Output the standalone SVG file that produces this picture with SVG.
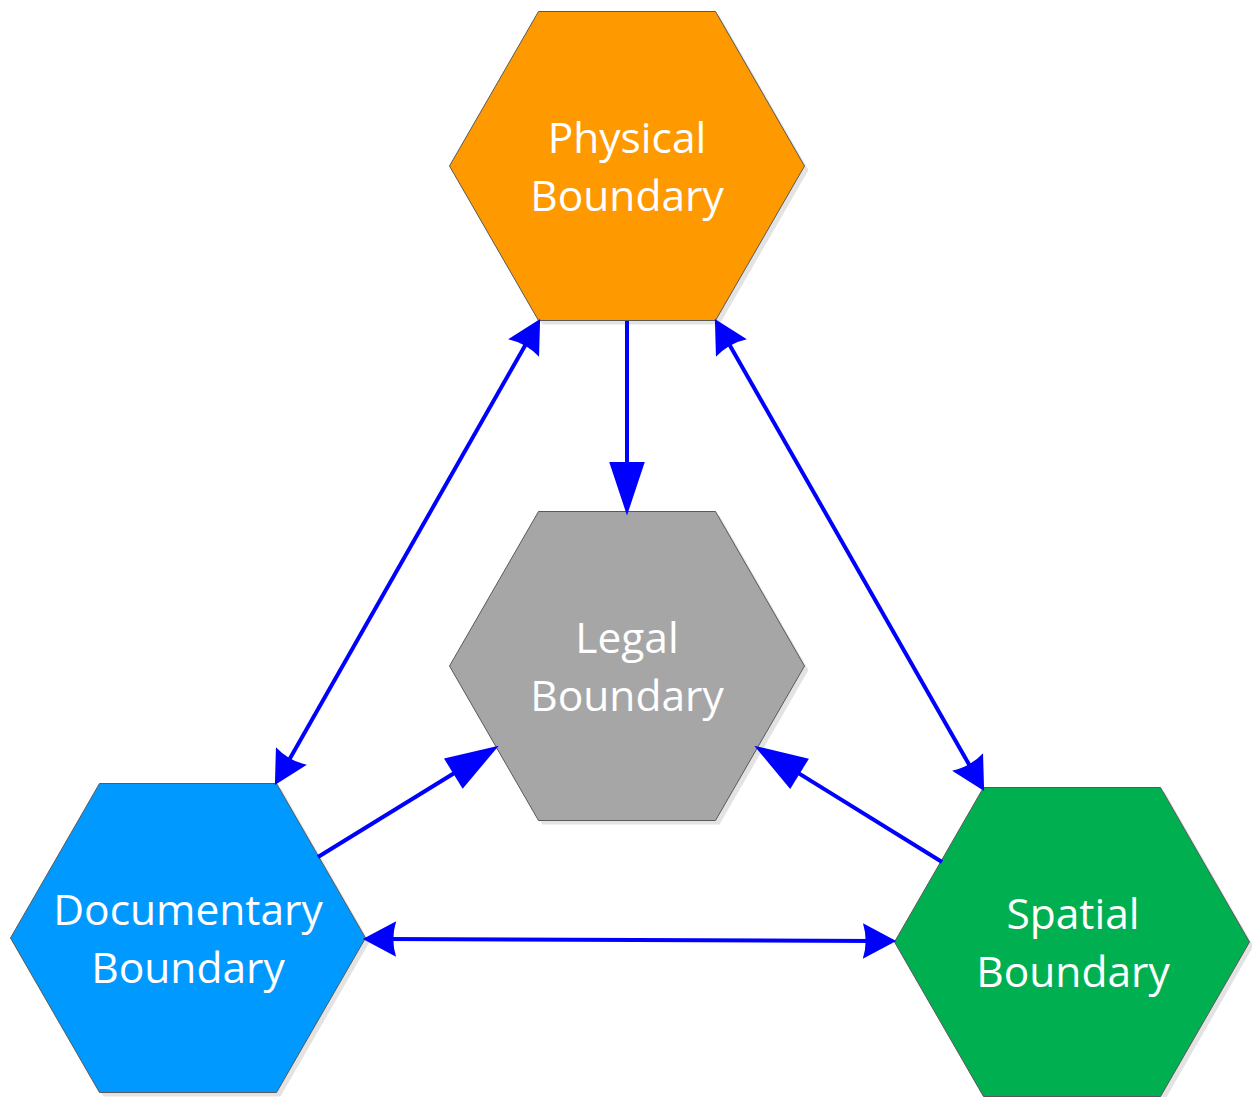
<svg xmlns="http://www.w3.org/2000/svg" width="1252" height="1097" viewBox="0 0 1252 1097">
<style>
  .hex { stroke: #595959; stroke-width: 1; }
  .shadow { fill: #e3e3e3; }
  .lbl { font-family: "Open Sans", "Noto Sans", "Liberation Sans", sans-serif; font-size: 42.5px; fill: #ffffff; text-anchor: middle; }
  .conn { stroke: #0000ff; stroke-width: 4; fill: none; }
</style>
<defs>
  <polygon id="hexshape" points="-177.5,0 -88.5,-154.5 88.5,-154.5 177.5,0 88.5,154.5 -88.5,154.5"/>
  <marker id="ah" markerUnits="userSpaceOnUse" markerWidth="60" markerHeight="40" viewBox="-12 -18 34 36" refX="0" refY="0" orient="auto-start-reverse" overflow="visible">
    <path d="M20,0 L-10,-16 Q-5,0 -10,16 Z" fill="#0000ff"/>
  </marker>
  <marker id="tri" markerUnits="userSpaceOnUse" markerWidth="60" markerHeight="40" viewBox="-10 -18 52 36" refX="0" refY="0" orient="auto" overflow="visible">
    <path d="M40,0 L-8,-16 L-8,16 Z" fill="#0000ff"/>
  </marker>
</defs>
<rect width="1252" height="1097" fill="#ffffff"/>

<g id="node-physical">
  <use href="#hexshape" class="shadow" transform="translate(631,170)"/>
  <use href="#hexshape" class="hex" fill="#ff9900" transform="translate(627,166)"/>
  <text class="lbl" x="627" y="153">Physical</text>
  <text class="lbl" x="627" y="211">Boundary</text>
</g>

<g id="node-legal">
  <use href="#hexshape" class="shadow" transform="translate(631,670)"/>
  <use href="#hexshape" class="hex" fill="#a6a6a6" transform="translate(627,666)"/>
  <text class="lbl" x="627" y="653">Legal</text>
  <text class="lbl" x="627" y="711">Boundary</text>
</g>

<g id="node-documentary">
  <use href="#hexshape" class="shadow" transform="translate(192,942)"/>
  <use href="#hexshape" class="hex" fill="#0099ff" transform="translate(188,938)"/>
  <text class="lbl" x="188" y="925">Documentary</text>
  <text class="lbl" x="188" y="983">Boundary</text>
</g>

<g id="node-spatial">
  <use href="#hexshape" class="shadow" transform="translate(1076,946)"/>
  <use href="#hexshape" class="hex" fill="#00b050" transform="translate(1072,942)"/>
  <text class="lbl" x="1073" y="929">Spatial</text>
  <text class="lbl" x="1073" y="987">Boundary</text>
</g>

<g id="connectors">
  <line class="conn" x1="627" y1="321" x2="627" y2="471" marker-end="url(#tri)"/>
  <line class="conn" x1="285.9" y1="765.6" x2="529.1" y2="338.4" marker-start="url(#ah)" marker-end="url(#ah)"/>
  <line class="conn" x1="725.9" y1="338.4" x2="973.1" y2="771.6" marker-start="url(#ah)" marker-end="url(#ah)"/>
  <line class="conn" x1="318" y1="857" x2="460.9" y2="769" marker-end="url(#tri)"/>
  <line class="conn" x1="942" y1="862" x2="792" y2="769.1" marker-end="url(#tri)"/>
  <line class="conn" x1="385" y1="939" x2="874" y2="941" marker-start="url(#ah)" marker-end="url(#ah)"/>
</g>
</svg>
